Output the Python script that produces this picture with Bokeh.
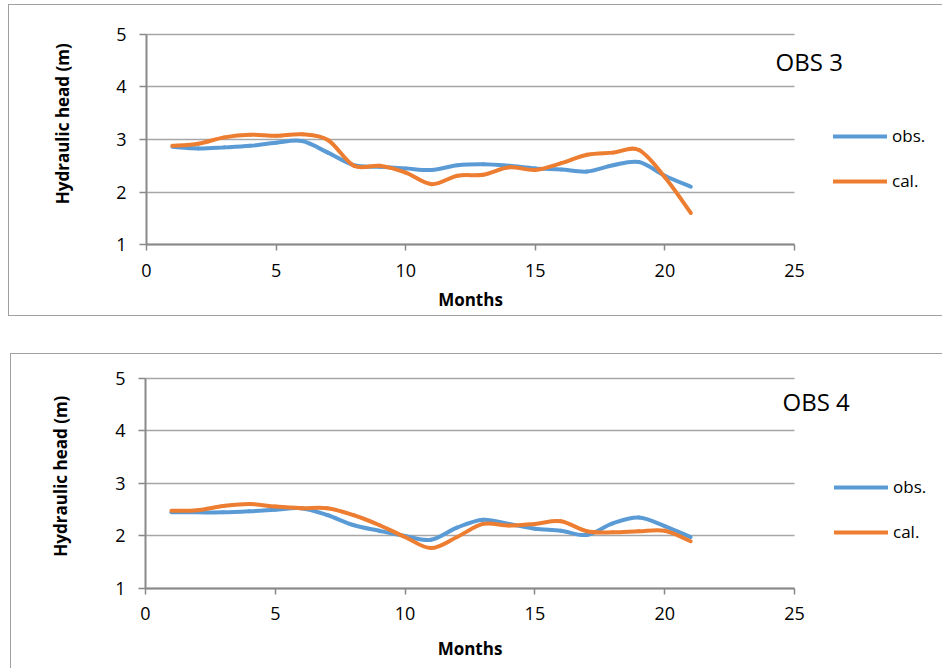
import math
from bokeh.plotting import figure
from bokeh.models import (ColumnDataSource, FixedTicker, Legend, LegendItem, Label, Range1d, Grid)
from bokeh.layouts import column
from bokeh.embed import file_html
from bokeh.resources import INLINE

# ---- data ----
months = [1, 2, 3, 4, 5, 6, 7, 8, 9, 10, 11, 12, 13, 14, 15, 16, 17, 18, 19, 20, 21]
obs3 = [2.86, 2.83, 2.85, 2.88, 2.94, 2.97, 2.75, 2.51, 2.48, 2.45, 2.42, 2.51, 2.53, 2.50, 2.45, 2.43, 2.39, 2.51, 2.57, 2.31, 2.10]
cal3 = [2.88, 2.92, 3.04, 3.09, 3.07, 3.10, 2.99, 2.50, 2.50, 2.37, 2.15, 2.31, 2.33, 2.47, 2.42, 2.55, 2.71, 2.75, 2.80, 2.28, 1.60]
obs4 = [2.45, 2.45, 2.45, 2.47, 2.50, 2.53, 2.40, 2.21, 2.10, 2.00, 1.93, 2.16, 2.31, 2.23, 2.14, 2.10, 2.02, 2.24, 2.35, 2.19, 1.98]
cal4 = [2.48, 2.49, 2.57, 2.61, 2.56, 2.53, 2.53, 2.40, 2.21, 1.98, 1.77, 1.98, 2.23, 2.20, 2.23, 2.28, 2.09, 2.07, 2.09, 2.10, 1.90]
x_ticks = [0, 5, 10, 15, 20, 25]
y_ticks = [1, 2, 3, 4, 5]
series_labels = ["obs.", "cal."]
panel_titles = ["OBS 3", "OBS 4"]
x_title = "Months"
y_title = "Hydraulic head (m)"

BLUE = "#5B9BD5"
ORANGE = "#ED7D31"
FONT = "Open Sans"
AXIS_C = "#898989"
GRID_C = "#a6a6a6"
BORDER_C = "#a0a0a0"

HAS_CROSS = "cross_bounds" in Grid.properties()


def smooth_source(xs, ys):
    n = len(xs)
    d = dict(x0=[], y0=[], x1=[], y1=[], cx0=[], cy0=[], cx1=[], cy1=[])
    for i in range(n - 1):
        pv = max(i - 1, 0)
        nx = min(i + 2, n - 1)
        d["x0"].append(xs[i]); d["y0"].append(ys[i])
        d["x1"].append(xs[i + 1]); d["y1"].append(ys[i + 1])
        d["cx0"].append(xs[i] + (xs[i + 1] - xs[pv]) / 6.0)
        d["cy0"].append(ys[i] + (ys[i + 1] - ys[pv]) / 6.0)
        d["cx1"].append(xs[i + 1] - (xs[nx] - xs[i]) / 6.0)
        d["cy1"].append(ys[i + 1] - (ys[nx] - ys[i]) / 6.0)
    return ColumnDataSource(d)


def make_panel(obs, cal, title, width, height, xr, yr, margin, styles,
               legend_loc, title_xy, ylab_xy, xlab_standoff):
    p = figure(width=width, height=height, output_backend="svg", toolbar_location=None,
               x_range=Range1d(*xr), y_range=Range1d(*yr), min_border=0,
               min_border_left=0, min_border_right=0, min_border_top=0,
               min_border_bottom=0)
    p.margin = margin
    p.outline_line_color = None
    p.background_fill_color = "white"
    p.border_fill_color = "white"
    p.styles = styles

    p.xgrid.visible = False
    if HAS_CROSS:
        p.ygrid.ticker = FixedTicker(ticks=y_ticks)
        p.ygrid.grid_line_color = GRID_C
        p.ygrid.grid_line_width = 1.6
        p.ygrid.bounds = (y_ticks[0], y_ticks[-1])
        p.ygrid.cross_bounds = (x_ticks[0], x_ticks[-1])
    else:
        p.ygrid.visible = False
        p.segment(x0=[x_ticks[0]] * len(y_ticks), x1=[x_ticks[-1]] * len(y_ticks),
                  y0=y_ticks, y1=y_ticks, line_color=GRID_C, line_width=1.6)

    for ax in (p.xaxis[0], p.yaxis[0]):
        ax.axis_line_color = AXIS_C
        ax.axis_line_width = 2
        ax.major_tick_line_color = AXIS_C
        ax.major_tick_line_width = 1.5
        ax.minor_tick_line_color = None
        ax.major_tick_in = 0
        ax.major_label_text_font = FONT
        ax.major_label_text_font_size = "18px"
        ax.major_label_text_color = "black"
    p.xaxis.ticker = FixedTicker(ticks=x_ticks)
    p.yaxis.ticker = FixedTicker(ticks=y_ticks)
    p.xaxis.bounds = (x_ticks[0], x_ticks[-1])
    p.yaxis.bounds = (y_ticks[0], y_ticks[-1])
    p.xaxis.fixed_location = y_ticks[0]
    p.yaxis.fixed_location = x_ticks[0]
    p.xaxis.major_tick_out = 6
    p.yaxis.major_tick_out = 7
    p.xaxis.major_label_standoff = 13
    p.yaxis.major_label_standoff = 13
    p.xaxis.axis_label = x_title
    p.xaxis.axis_label_text_font = FONT
    p.xaxis.axis_label_text_font_style = "bold"
    p.xaxis.axis_label_text_font_size = "17px"
    p.xaxis.axis_label_text_color = "black"
    p.xaxis.axis_label_standoff = xlab_standoff

    r_obs = p.bezier(x0="x0", y0="y0", x1="x1", y1="y1", cx0="cx0", cy0="cy0",
                     cx1="cx1", cy1="cy1", source=smooth_source(months, obs),
                     line_color=BLUE, line_width=4, line_cap="round")
    r_cal = p.bezier(x0="x0", y0="y0", x1="x1", y1="y1", cx0="cx0", cy0="cy0",
                     cx1="cx1", cy1="cy1", source=smooth_source(months, cal),
                     line_color=ORANGE, line_width=4, line_cap="round")

    legend = Legend(items=[LegendItem(label=series_labels[0], renderers=[r_obs]),
                           LegendItem(label=series_labels[1], renderers=[r_cal])],
                    location=legend_loc, glyph_width=54, glyph_height=20,
                    label_height=20, spacing=22, padding=0, margin=0,
                    border_line_color=None, background_fill_alpha=0,
                    label_standoff=5, label_text_font=FONT,
                    label_text_font_size="17px", label_text_color="black")
    p.add_layout(legend)

    p.add_layout(Label(x=title_xy[0], y=title_xy[1], text=title, text_font=FONT,
                       text_font_size="24px", text_color="black",
                       text_align="left", text_baseline="middle"))
    p.add_layout(Label(x=ylab_xy[0], y=ylab_xy[1], text=y_title, text_font=FONT,
                       text_font_size="17px", text_font_style="bold",
                       text_color="black", angle=math.pi / 2,
                       text_align="center", text_baseline="middle"))
    return p


p1 = make_panel(obs3, cal3, panel_titles[0], 934, 312,
                (-5.285, 30.749), (-0.390, 5.552), (4, 0, 0, 8),
                {"border-top": f"1px solid {BORDER_C}", "border-left": f"1px solid {BORDER_C}",
                 "border-bottom": f"1px solid {BORDER_C}"},
                (824, 125), (24.27, 4.49), (-3.24, 3.30), 8)
p2 = make_panel(obs4, cal4, panel_titles[1], 932, 315,
                (-5.162, 30.74), (-0.543, 5.457), (37, 0, 0, 10),
                {"border-top": f"1px solid {BORDER_C}", "border-left": f"1px solid {BORDER_C}"},
                (823, 126), (24.54, 4.56), (-3.27, 3.14), 13)

layout = column(p1, p2, spacing=0)
open("out.html", "w").write(file_html(layout, INLINE))
